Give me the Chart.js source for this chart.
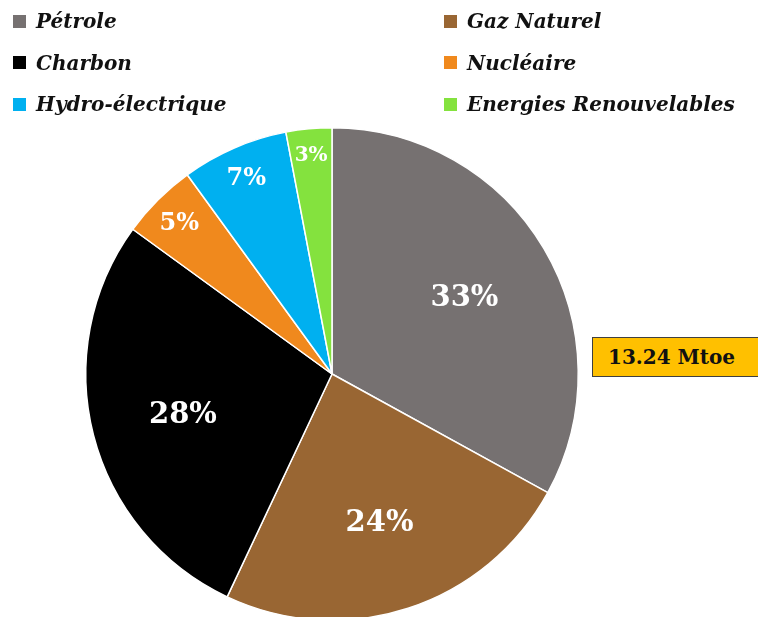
<!DOCTYPE html>
<html>
<head>
<meta charset="utf-8">
<script src="https://cdn.jsdelivr.net/npm/chart.js@4"></script>
<style>
  html, body { margin: 0; padding: 0; background: #fff; overflow: hidden; }
  #wrap { position: relative; width: 758px; height: 622px; }
  #wrap canvas { position: absolute; left: 0; top: 0; }
  .legend { position: absolute; left: 0; top: 0; width: 758px; }
  .legend-item {
    position: absolute; display: flex; align-items: center;
    font-family: "DejaVu Serif", serif; font-style: italic; font-weight: bold;
    font-size: 20px; color: #111; white-space: nowrap;
  }
  .legend-box { width: 13px; height: 13px; margin-right: 10px; }
  .note {
    position: absolute; left: 592px; top: 337px; width: 170px; height: 40px;
    background: #ffc000; border: 1px solid #404040; box-sizing: border-box;
    font-family: "DejaVu Serif", serif; font-weight: bold; font-size: 20px;
    line-height: 38px; padding-left: 15px; color: #111;
  }
</style>
</head>
<body>
<div id="wrap">
  <canvas id="pie" width="758" height="622"></canvas>
  <div class="legend" id="legend"></div>
  <div class="note" id="note"></div>
</div>
<script>
// ── DATA ───────────────────────────────────────────────────────────────────

const LABELS = ['Pétrole', 'Gaz Naturel', 'Charbon', 'Nucléaire', 'Hydro-électrique', 'Energies Renouvelables'];
const SHARES = [33, 24, 28, 5, 7, 3];
const COLORS = ['#767171', '#996633', '#000000', '#f0891d', '#00b0f0', '#84e23e'];
// legend reads row by row: left column, then right column
const LEGEND_ORDER = [0, 1, 2, 3, 4, 5];
const TOTAL_NOTE = '13.24 Mtoe';

// ── LEGEND & NOTE ──────────────────────────────────────────────────────────

const legendEl = document.getElementById('legend');
LEGEND_ORDER.forEach((idx, i) => {
  const col = i % 2, row = Math.floor(i / 2);
  const item = document.createElement('div');
  item.className = 'legend-item';
  item.style.left = (col ? 444 : 13) + 'px';
  item.style.top = (9 + row * 41.5) + 'px';
  item.innerHTML = `<div class="legend-box" style="background:${COLORS[idx]}"></div><span>${LABELS[idx]}</span>`;
  legendEl.appendChild(item);
});
document.getElementById('note').textContent = TOTAL_NOTE;

// ── PERCENT LABELS ─────────────────────────────────────────────────────────

const pctLabels = {
  id: 'pctLabels',
  afterDatasetsDraw(chart) {
    const { ctx } = chart;
    const meta = chart.getDatasetMeta(0);
    ctx.save();
    ctx.fillStyle = '#fff';
    ctx.textAlign = 'center';
    ctx.textBaseline = 'alphabetic';
    meta.data.forEach((arc, i) => {
      const v = SHARES[i];
      const { x, y, startAngle, endAngle, outerRadius } = arc.getProps(['x', 'y', 'startAngle', 'endAngle', 'outerRadius'], true);
      const mid = (startAngle + endAngle) / 2;
      const frac = v >= 10 ? 0.625 : (v >= 5 ? 0.877 : 0.9);
      const size = v >= 10 ? 29 : (v >= 5 ? 24 : 20);
      ctx.font = `bold ${size}px "DejaVu Serif", serif`;
      ctx.fillText(v + '%', x + Math.cos(mid) * outerRadius * frac, y + Math.sin(mid) * outerRadius * frac + size * 0.365);
    });
    ctx.restore();
  },
};

// ── CHART ──────────────────────────────────────────────────────────────────

new Chart(document.getElementById('pie').getContext('2d'), {
  type: 'pie',
  data: {
    labels: LABELS,
    datasets: [{
      data: SHARES,
      backgroundColor: COLORS,
      borderColor: '#ffffff',
      borderWidth: 1.5,
    }],
  },
  options: {
    responsive: false,
    animation: false,
    layout: { padding: { left: 85, right: 179, top: 127, bottom: 1 } },
    plugins: {
      legend: { display: false },
      tooltip: { enabled: false },
    },
  },
  plugins: [pctLabels],
});
</script>
</body>
</html>
